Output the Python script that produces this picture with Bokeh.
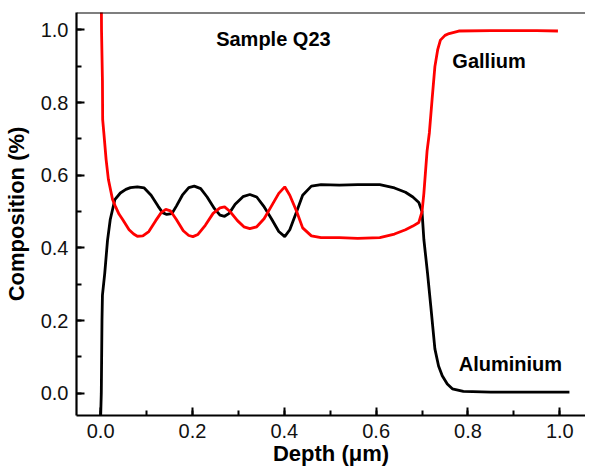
from bokeh.plotting import figure
from bokeh.models import (Range1d, SingleIntervalTicker, Label, Span,
                          PrintfTickFormatter)
from bokeh.embed import file_html
from bokeh.resources import INLINE

# ---- data ----
al_depth = [0.000, 0.0015, 0.003, 0.004, 0.009, 0.015, 0.021, 0.031, 0.043, 0.055,
            0.065, 0.080, 0.095, 0.110, 0.125, 0.135, 0.144, 0.155, 0.165, 0.178,
            0.192, 0.204, 0.218, 0.232, 0.248, 0.260, 0.270, 0.280, 0.293, 0.310,
            0.325, 0.340, 0.355, 0.372, 0.388, 0.401, 0.412, 0.427, 0.440, 0.459,
            0.480, 0.520, 0.560, 0.608, 0.640, 0.664, 0.680, 0.693, 0.700, 0.704,
            0.712, 0.719, 0.728, 0.736, 0.744, 0.755, 0.766, 0.790, 0.850, 0.950,
            1.021]
al_comp = [-0.07, 0.00, 0.20, 0.27, 0.33, 0.42, 0.478, 0.533, 0.551, 0.561,
           0.566, 0.568, 0.565, 0.545, 0.515, 0.497, 0.492, 0.494, 0.515, 0.545,
           0.566, 0.570, 0.563, 0.540, 0.508, 0.490, 0.487, 0.495, 0.520, 0.541,
           0.547, 0.540, 0.515, 0.480, 0.445, 0.431, 0.450, 0.500, 0.545, 0.570,
           0.574, 0.573, 0.574, 0.574, 0.565, 0.553, 0.540, 0.525, 0.500, 0.423,
           0.330, 0.240, 0.122, 0.075, 0.048, 0.025, 0.012, 0.005, 0.003, 0.003,
           0.003]

ga_depth = [0.001, 0.002, 0.004, 0.0045, 0.007, 0.012, 0.017, 0.026, 0.032, 0.040,
            0.048, 0.062, 0.072, 0.080, 0.092, 0.105, 0.120, 0.132, 0.142, 0.152,
            0.165, 0.180, 0.192, 0.201, 0.212, 0.228, 0.245, 0.260, 0.270, 0.282,
            0.298, 0.312, 0.325, 0.340, 0.356, 0.372, 0.388, 0.401, 0.412, 0.427,
            0.440, 0.459, 0.480, 0.520, 0.560, 0.608, 0.640, 0.664, 0.680, 0.693,
            0.700, 0.704, 0.711, 0.716, 0.722, 0.728, 0.734, 0.740, 0.750, 0.759,
            0.780, 0.850, 0.950, 0.996]
ga_comp = [1.20, 1.00, 0.86, 0.753, 0.717, 0.643, 0.588, 0.533, 0.515, 0.493,
           0.478, 0.450, 0.438, 0.432, 0.433, 0.445, 0.475, 0.497, 0.506, 0.502,
           0.478, 0.447, 0.434, 0.431, 0.437, 0.462, 0.495, 0.510, 0.513, 0.500,
           0.475, 0.458, 0.453, 0.458, 0.480, 0.515, 0.550, 0.568, 0.545, 0.500,
           0.455, 0.433, 0.428, 0.428, 0.426, 0.428, 0.438, 0.450, 0.460, 0.470,
           0.500, 0.550, 0.667, 0.717, 0.810, 0.899, 0.945, 0.972, 0.985, 0.990,
           0.997, 0.998, 0.998, 0.997]

x_label = "Depth (\u03bcm)"
y_label = "Composition (%)"
sample_label = "Sample Q23"
ga_label = "Gallium"
al_label = "Aluminium"

FONT = "Liberation Sans"
Y_TOP = 1.048

p = figure(width=585, height=468, output_backend="svg", toolbar_location=None,
           x_range=Range1d(-0.0525, 1.056), y_range=Range1d(-0.0615, Y_TOP),
           min_border_left=71, min_border_right=0, min_border_top=12,
           min_border_bottom=0)
p.outline_line_color = None
p.grid.visible = False
p.background_fill_color = "white"
p.border_fill_color = "white"

p.line(al_depth, al_comp, line_color="black", line_width=2.8)
p.line(ga_depth, ga_comp, line_color="#ff0000", line_width=2.8)

for ax in (p.xaxis[0], p.yaxis[0]):
    ax.ticker = SingleIntervalTicker(interval=0.2, num_minor_ticks=2)
    ax.formatter = PrintfTickFormatter(format="%.1f")
    ax.axis_line_width = 2.2
    ax.axis_line_color = "black"
    ax.major_tick_in = 8
    ax.major_tick_out = 0
    ax.minor_tick_in = 5
    ax.minor_tick_out = 0
    ax.major_tick_line_width = 2
    ax.minor_tick_line_width = 2
    ax.major_tick_line_color = "black"
    ax.minor_tick_line_color = "black"
    ax.major_label_text_font = FONT
    ax.major_label_text_font_size = "20px"
    ax.major_label_text_color = "#111111"
    ax.major_label_text_line_height = 1.0
    ax.axis_label_text_font = FONT
    ax.axis_label_text_font_style = "bold"
    ax.axis_label_text_font_size = "22px"
    ax.axis_label_text_color = "black"
    ax.axis_label_text_line_height = 1.0

p.xaxis.axis_label = x_label
p.yaxis.axis_label = y_label
p.xaxis.major_label_standoff = 8
p.xaxis.axis_label_standoff = 0
p.yaxis.major_label_standoff = 8
p.yaxis.axis_label_standoff = 9

p.add_layout(Span(location=Y_TOP, dimension="width", line_color="black",
                  line_width=2.2))

for txt, x, y in ((sample_label, 0.2516, 0.974), (ga_label, 0.766, 0.915),
                  (al_label, 0.780, 0.080)):
    p.add_layout(Label(x=x, y=y, text=txt, text_font=FONT, text_font_style="bold",
                       text_font_size="20px", text_color="black",
                       text_baseline="alphabetic", text_align="left"))

open("out.html", "w").write(file_html(p, INLINE))
